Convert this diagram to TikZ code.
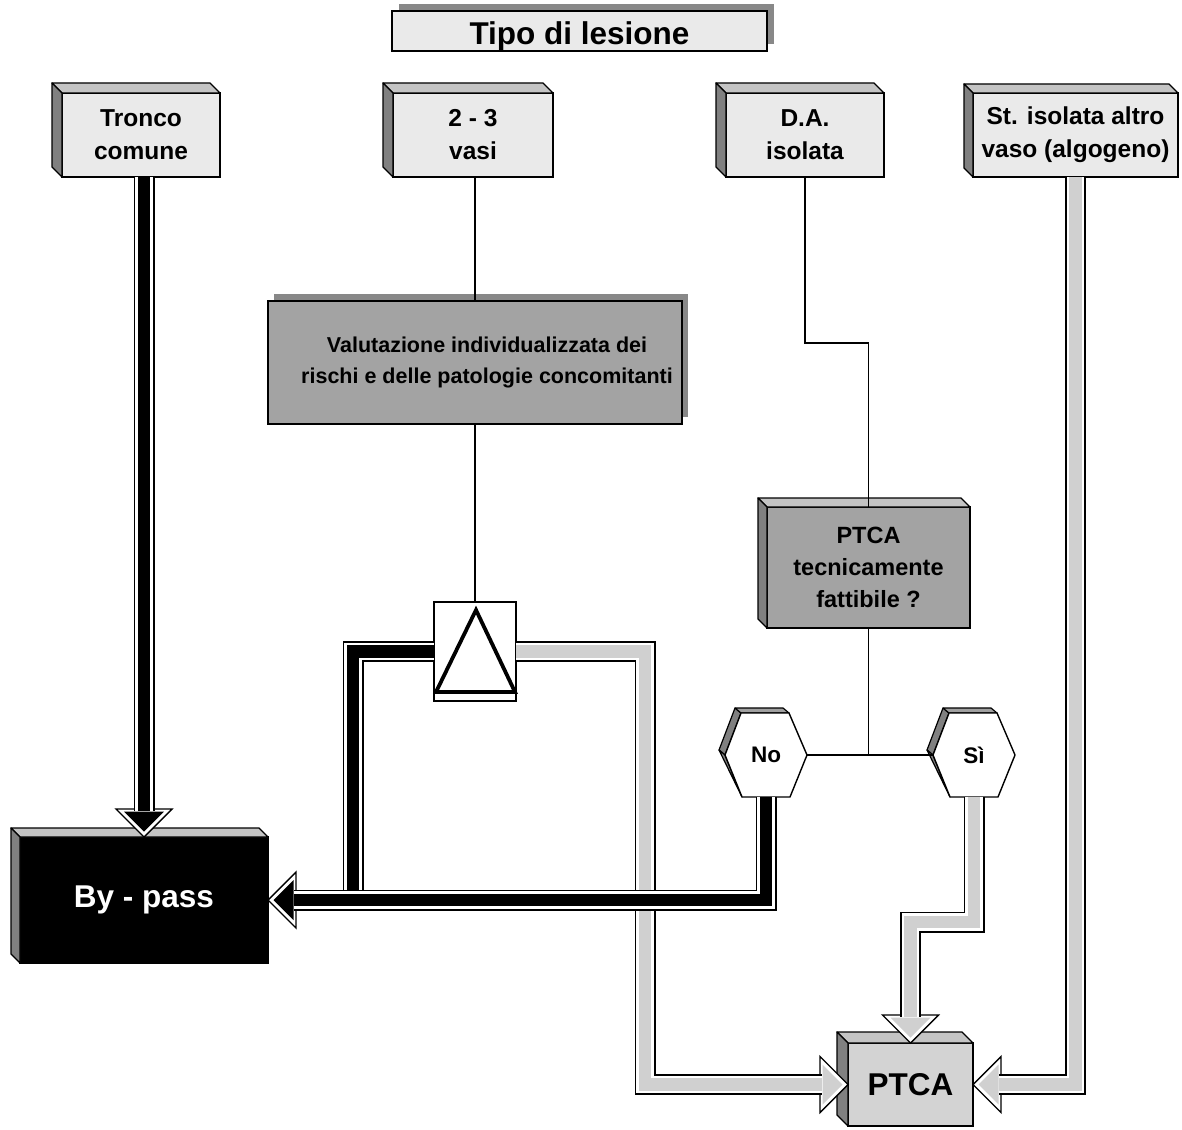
\documentclass[tikz,border=0pt]{standalone}
\usepackage{fontspec}
\setmainfont{Liberation Sans}
\usetikzlibrary{calc}
\definecolor{boxlight}{HTML}{EAEAEA}
\definecolor{facetop}{HTML}{C4C4C4}
\definecolor{faceside}{HTML}{808080}
\definecolor{midgray}{HTML}{A3A3A3}
\definecolor{shadowgray}{HTML}{888888}
\definecolor{pipegray}{HTML}{D0D0D0}
\definecolor{ptcagray}{HTML}{D3D3D3}
\definecolor{hextop}{HTML}{A0A0A0}
\newcommand\tbfont{\bfseries\fontsize{24.5}{33}\selectfont}
\newcommand\qfont{\bfseries\fontsize{23.5}{32}\selectfont}
\newcommand\titlefnt{\bfseries\fontsize{31.5}{36}\selectfont}
\newcommand\bigfnt{\bfseries\fontsize{31.5}{36}\selectfont}
\newcommand\valfnt{\bfseries\fontsize{21.5}{31.5}\selectfont}
\newcommand\hexfnt{\bfseries\fontsize{22.5}{26}\selectfont}
\tikzset{
  every node/.style={inner sep=0pt, outer sep=0pt},
  frontbox/.style={draw=black, line width=1.7pt, rectangle, align=center, font=\tbfont},
  shadowbox/.style={fill=shadowgray, rectangle},
  thinline/.style={draw=black, line width=1.4pt},
  pipe/.style={draw=black, line width=21pt, postaction={draw=white, line width=17.5pt}, postaction={draw=#1, line width=12.5pt}},
}
% 3D faces of a box: node, depth, top colour, side colour
\newcommand\boxbevel[4]{%
  \path[fill=#3,draw=black,line width=1.3pt,line join=round] (#1.north west) -- ($(#1.north west)+(-#2,-#2)$) -- ($(#1.north east)+(-#2,-#2)$) -- (#1.north east) -- cycle;
  \path[fill=#4,draw=black,line width=1.3pt,line join=round] (#1.north west) -- ($(#1.north west)+(-#2,-#2)$) -- ($(#1.south west)+(-#2,-#2)$) -- (#1.south west) -- cycle;}
% hexagon: name, centre, text
\newcommand\hexshape[3]{%
  \coordinate (#1c) at #2;
  \path[fill=faceside,draw=black,line width=1.2pt,line join=round] ($(#1c)+(-47,-5)$) -- ($(#1c)+(-31,-47)$) -- ($(#1c)+(-25,-42)$) -- ($(#1c)+(-41,0)$) -- cycle;
  \path[fill=hextop,draw=black,line width=1.2pt,line join=round] ($(#1c)+(-31,-47)$) -- ($(#1c)+(17,-47)$) -- ($(#1c)+(23,-42)$) -- ($(#1c)+(-25,-42)$) -- cycle;
  \path[fill=faceside,draw=black,line width=1.2pt,line join=round] ($(#1c)+(-47,-5)$) -- ($(#1c)+(-41,0)$) -- ($(#1c)+(-24,42)$) -- cycle;
  \path[fill=white,draw=black,line width=1.4pt,line join=round] ($(#1c)+(-41,0)$) -- ($(#1c)+(-25,-42)$) -- ($(#1c)+(23,-42)$) -- ($(#1c)+(41,0)$) -- ($(#1c)+(24,42)$) -- ($(#1c)+(-24,42)$) -- cycle;
  \node[font=\hexfnt, minimum width=82pt, minimum height=84pt] (#1) at (#1c) {#3};}
% block arrow head: tip, angle, colour
\newcommand\pipehead[3]{%
  \begin{scope}[shift={#1}, rotate=#2]
    \path[fill=white,draw=black,line width=1.4pt,line join=miter] (0,0) -- (-28,28) -- (-28,-28) -- cycle;
    \path[fill=#3] (-5.5,0) -- (-25.5,20) -- (-25.5,-20) -- cycle;
  \end{scope}}
\begin{document}
\begin{tikzpicture}[x=1pt,y=-1pt]
\useasboundingbox (0,0) rectangle (1182,1129);

% title
\node[shadowbox, minimum width=375pt, minimum height=40pt] (titleshadow) at (586,24) {};
\node[frontbox, fill=boxlight, minimum width=375pt, minimum height=40pt, font=\titlefnt, text height=28pt, text depth=0pt] (title) at (579.5,31) {Tipo di lesione};

% top boxes
\node[frontbox, fill=boxlight, minimum width=158pt, minimum height=84pt] (tronco) at (141,135) {Tronco\\comune};
\boxbevel{tronco}{10}{facetop}{faceside}
\node[frontbox, fill=boxlight, minimum width=160pt, minimum height=84pt] (vasi) at (473,135) {2 - 3\\vasi};
\boxbevel{vasi}{10}{facetop}{faceside}
\node[frontbox, fill=boxlight, minimum width=158pt, minimum height=84pt] (da) at (805,135) {D.A.\\isolata};
\boxbevel{da}{10}{facetop}{faceside}
\node[frontbox, fill=boxlight, minimum width=205pt, minimum height=84pt] (stis) at (1075.5,135) {St. isolata altro\\vaso (algogeno)};
\boxbevel{stis}{9}{facetop}{faceside}

% evaluation box
\node[shadowbox, minimum width=414pt, minimum height=123pt] (valutshadow) at (481,355.5) {};
\node[frontbox, fill=midgray, minimum width=414pt, minimum height=123pt,
  label={[name=valuttext, xshift=12pt, align=center, font=\valfnt]center:{Valutazione individualizzata dei\\rischi e delle patologie concomitanti}}] (valut) at (475,362.5) {};

% PTCA feasible box
\node[frontbox, fill=midgray, font=\qfont, minimum width=203pt, minimum height=121pt] (ptcaq) at (868.5,567.5) {PTCA\\tecnicamente\\fattibile ?};
\boxbevel{ptcaq}{9}{facetop}{faceside}

% triangle box
\node[draw=black, fill=white, line width=1.3pt, minimum width=82pt, minimum height=99pt] (tri) at (475,651.5) {};
\draw[line width=3.8pt, line join=miter] ($(tri.north)+(1,8)$) -- ($(tri.south west)+(2,-9)$) -- ($(tri.south east)+(-1,-9)$) -- cycle;

% hexagons
\hexshape{no}{(766,755)}{No}
\hexshape{si}{(974,755)}{Sì}

% thin connectors
\draw[thinline] (vasi.south -| valut.north) -- (valut.north);
\draw[thinline] (valut.south) -- (tri.north);
\draw[thinline] (da.south) -- ++(0,166) -| (ptcaq.north);
\coordinate (junc) at (ptcaq.south |- no.east);
\draw[thinline] (ptcaq.south) -- (junc);
\draw[thinline] (no.east) -- (si.west);

% result boxes
\node[frontbox, fill=black, text=white, font=\bigfnt, minimum width=248pt, minimum height=126pt] (bypass) at (144,900) {By - pass};
\boxbevel{bypass}{9}{facetop}{faceside}
\node[frontbox, fill=ptcagray, font=\bigfnt, minimum width=125pt, minimum height=83pt] (ptca) at (910.5,1084.5) {PTCA};
\boxbevel{ptca}{11}{facetop}{faceside}

% pipes
\coordinate (gx) at (645,651.5);
\coordinate (lx) at (353,651.5);
\pipehead{(ptca.west)}{0}{pipegray}
\draw[pipe=pipegray] (tri.east) -- (gx) -- (gx |- ptca.west) -- ($(ptca.west)+(-26,0)$);
\draw[pipe=black] (tri.west) -- (lx) -- ($(lx |- bypass.east)+(0,-5)$);
\pipehead{(bypass.east)}{180}{black}
\draw[pipe=black] (no.south) -- (no.south |- bypass.east) -- ($(bypass.east)+(26,0)$);
\pipehead{(bypass.north)}{-90}{black}
\draw[pipe=black] (bypass.north |- tronco.south) -- ($(bypass.north)+(0,-26)$);
\coordinate (sistep) at ($(si.south)+(0,125)$);
\pipehead{(ptca.north)}{-90}{pipegray}
\draw[pipe=pipegray] (si.south) -- (sistep) -- (sistep -| ptca.north) -- ($(ptca.north)+(0,-26)$);
\pipehead{(ptca.east)}{180}{pipegray}
\draw[pipe=pipegray] (stis.south) -- (stis.south |- ptca.east) -- ($(ptca.east)+(26,0)$);
\end{tikzpicture}
\end{document}
